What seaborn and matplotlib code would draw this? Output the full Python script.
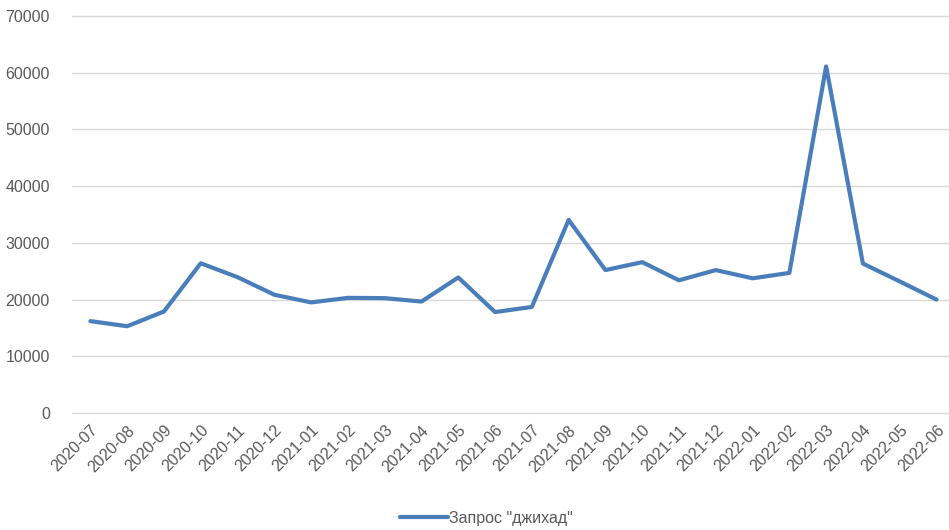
import pandas as pd
import numpy as np
import matplotlib.pyplot as plt
import seaborn as sns

months = [
    "2020-07", "2020-08", "2020-09", "2020-10", "2020-11", "2020-12",
    "2021-01", "2021-02", "2021-03", "2021-04", "2021-05", "2021-06",
    "2021-07", "2021-08", "2021-09", "2021-10", "2021-11", "2021-12",
    "2022-01", "2022-02", "2022-03", "2022-04", "2022-05", "2022-06",
]
requests = [
    16200, 15300, 17900, 26400, 23950, 20850,
    19500, 20300, 20250, 19650, 23900, 17800,
    18700, 34050, 25200, 26600, 23400, 25200,
    23750, 24700, 61100, 26350, 23200, 20000,
]
series_name = 'Запрос "джихад"'

df = pd.DataFrame({"month": months, "value": requests})

sns.set_style("white")
plt.rcParams["font.family"] = ["Liberation Sans", "DejaVu Sans"]

fig = plt.figure(figsize=(9.49, 5.30), dpi=100)
ax = fig.add_axes([72 / 949, 1 - 413 / 530, 1 - 72 / 949, (413 - 16) / 530])

sns.lineplot(data=df, x="month", y="value", sort=False, ax=ax,
             color="#4a7ebb", linewidth=3, label=series_name)

ax.set_ylim(0, 70000)
ax.set_yticks(np.arange(0, 70001, 10000))
ax.set_xlim(-0.5, 23.34)
ax.set_xticks(range(len(months)))
ax.set_xticklabels(months, rotation=45, ha="right", rotation_mode="anchor")
ax.grid(axis="y", color="#d9d9d9", linewidth=1)
ax.set_axisbelow(True)
for gl in ax.get_ygridlines():
    gl.set_clip_on(False)
for s in ax.spines.values():
    s.set_visible(False)
ax.tick_params(axis="y", length=0, pad=16, labelsize=11.5, labelcolor="#595959")
ax.tick_params(axis="x", length=0, pad=7, labelsize=11.5, labelcolor="#595959")
ax.set_xlabel("")
ax.set_ylabel("")

ax.legend(loc="lower center", bbox_to_anchor=(0.5 - 24 / 877, -0.32), frameon=False,
          fontsize=11.5, handlelength=3, handletextpad=0.1, labelcolor="#595959")

fig.savefig("out.png", dpi=100)
